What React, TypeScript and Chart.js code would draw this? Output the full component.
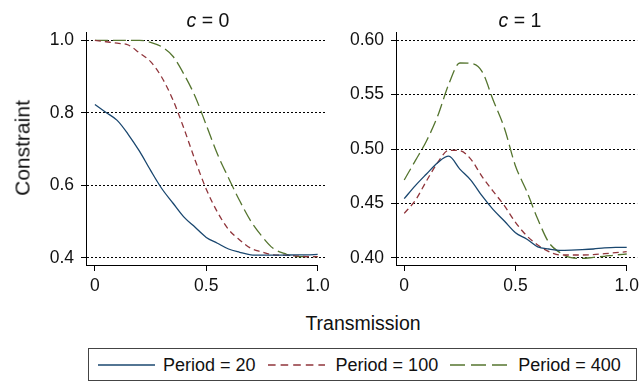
import React, { useEffect, useRef } from "react";
import { Chart, registerables } from "chart.js";

Chart.register(...registerables);

// ---------- data ----------
const transmission = [0, 0.05, 0.1, 0.15, 0.2, 0.25, 0.3, 0.35, 0.4, 0.45, 0.5, 0.55, 0.6, 0.65, 0.7, 0.75, 0.8, 0.85, 0.9, 0.95, 1.0];

const c0Period20 = [0.823, 0.801, 0.779, 0.740, 0.694, 0.641, 0.591, 0.551, 0.512, 0.484, 0.456, 0.440, 0.424, 0.415, 0.408, 0.407, 0.407, 0.407, 0.408, 0.408, 0.409];
const c0Period100 = [1.0, 0.996, 0.992, 0.987, 0.965, 0.941, 0.898, 0.836, 0.756, 0.669, 0.589, 0.526, 0.478, 0.449, 0.426, 0.416, 0.408, 0.407, 0.405, 0.403, 0.403];
const c0Period400 = [1.0, 1.0, 1.0, 1.0, 1.0, 0.9945, 0.982, 0.956, 0.906, 0.845, 0.766, 0.686, 0.620, 0.557, 0.501, 0.459, 0.426, 0.412, 0.403, 0.403, 0.403];

const c1Period20 = [0.4543, 0.4663, 0.477, 0.4874, 0.4934, 0.4815, 0.4712, 0.4568, 0.4442, 0.4338, 0.423, 0.4172, 0.410, 0.408, 0.4068, 0.407, 0.4074, 0.408, 0.409, 0.4095, 0.4095];
const c1Period100 = [0.4408, 0.4528, 0.4706, 0.4874, 0.4988, 0.4985, 0.4905, 0.4746, 0.461, 0.4479, 0.4325, 0.4203, 0.4117, 0.4056, 0.4025, 0.4025, 0.4025, 0.4028, 0.4037, 0.4046, 0.4055];
const c1Period400 = [0.4715, 0.4893, 0.5074, 0.5301, 0.5595, 0.5791, 0.5787, 0.5712, 0.5448, 0.5193, 0.4844, 0.4614, 0.4356, 0.414, 0.4047, 0.400, 0.3994, 0.4003, 0.4013, 0.4025, 0.4034];

const seriesLabels = ["Period = 20", "Period = 100", "Period = 400"];
const panelTitles = ["0", "1"];
const xTicks = [0, 0.5, 1.0];
const xTickLabels = ["0", "0.5", "1.0"];
const leftYTicks = [0.4, 0.6, 0.8, 1.0];
const rightYTicks = [0.4, 0.45, 0.5, 0.55, 0.6];
const xTitle = "Transmission";
const yTitle = "Constraint";

// ---------- styles ----------
const COLORS = ["#1a476f", "#90353b", "#55752f"];
const DASHES: number[][] = [[], [6, 4], [13, 5]];
const LEGEND_DASH = ["", "7.6 5", "15 6"];
const FONT = "'Liberation Sans', Arial, Helvetica, sans-serif";
const TEXT = "#111";

const xAxisLinePlugin = {
  id: "xAxisLine",
  afterDraw(chart: any) {
    const { ctx, chartArea, scales } = chart;
    const y = Math.round(chartArea.bottom) + 0.5;
    ctx.save();
    ctx.strokeStyle = "#000";
    ctx.lineWidth = 1;
    ctx.beginPath();
    ctx.moveTo(chartArea.left, y);
    ctx.lineTo(scales.x.getPixelForValue(1), y);
    ctx.stroke();
    ctx.restore();
  },
};

function makeConfig(
  series: number[][],
  yMin: number,
  yMax: number,
  yTicks: number[],
  decimals: number,
  yWidth: number,
  padRight: number,
  xMin: number,
  xMax: number
): any {
  return {
    type: "line",
    data: {
      datasets: series.map((s, i) => ({
        label: seriesLabels[i],
        data: transmission.map((x, j) => ({ x, y: s[j] })),
        borderColor: COLORS[i],
        borderWidth: 1.3,
        borderDash: DASHES[i],
        pointRadius: 0,
        fill: false,
        cubicInterpolationMode: "monotone",
      })),
    },
    options: {
      animation: false,
      responsive: false,
      maintainAspectRatio: false,
      devicePixelRatio: 1,
      layout: { padding: { left: 0, right: padRight, top: 32, bottom: 0 } },
      plugins: {
        legend: { display: false },
        title: { display: false },
        tooltip: { enabled: false },
      },
      scales: {
        x: {
          type: "linear",
          min: xMin,
          max: xMax,
          afterBuildTicks: (s: any) => {
            s.ticks = xTicks.map((v) => ({ value: v }));
          },
          afterFit: (s: any) => {
            s.height = 40;
          },
          border: { display: false },
          grid: {
            drawOnChartArea: false,
            drawTicks: true,
            tickLength: 6,
            tickColor: "#000",
            tickWidth: 1,
            tickBorderDash: [],
          },
          ticks: {
            autoSkip: false,
            maxRotation: 0,
            padding: 5,
            color: TEXT,
            font: { family: FONT, size: 17.5 },
            callback: (v: any) => {
              const i = xTicks.findIndex((t) => Math.abs(t - Number(v)) < 1e-9);
              return i >= 0 ? xTickLabels[i] : "";
            },
          },
        },
        y: {
          type: "linear",
          min: yMin,
          max: yMax,
          afterBuildTicks: (s: any) => {
            s.ticks = yTicks.map((v) => ({ value: v }));
          },
          afterFit: (s: any) => {
            s.width = yWidth;
          },
          border: { display: true, color: "#000", width: 1, dash: [2, 2] },
          grid: {
            color: "#000",
            lineWidth: 1,
            drawTicks: true,
            tickLength: 5,
            tickColor: "#000",
            tickWidth: 1,
            tickBorderDash: [],
          },
          ticks: {
            autoSkip: false,
            padding: 7,
            color: TEXT,
            font: { family: FONT, size: 17.5 },
            callback: (v: any) => Number(v).toFixed(decimals),
          },
        },
      },
    },
    plugins: [xAxisLinePlugin],
  };
}

function Panel(props: { left: number; width: number; height: number; config: any }) {
  const ref = useRef<HTMLCanvasElement | null>(null);
  useEffect(() => {
    if (!ref.current) return;
    const chart = new Chart(ref.current, props.config);
    return () => chart.destroy();
  }, []);
  return (
    <div style={{ position: "absolute", left: props.left, top: 0, width: props.width, height: props.height }}>
      <canvas
        ref={ref}
        width={props.width}
        height={props.height}
        style={{ width: props.width, height: props.height, display: "block" }}
      />
    </div>
  );
}

function LegendSample(props: { color: string; dash: string }) {
  return (
    <svg width={57} height={6} style={{ display: "block" }}>
      <line x1={0} y1={3} x2={57} y2={3} stroke={props.color} strokeWidth={1.3} strokeDasharray={props.dash || undefined} />
    </svg>
  );
}

export default function App() {
  const leftConfig = makeConfig([c0Period20, c0Period100, c0Period400], 0.3799, 1.0229, leftYTicks, 1, 86, 5, -0.04, 1.04);
  const rightConfig = makeConfig([c1Period20, c1Period100, c1Period400], 0.39328, 0.60764, rightYTicks, 2, 61, 3, -0.037, 1.047);

  const titleStyle = (cx: number): React.CSSProperties => ({
    position: "absolute",
    left: cx - 60,
    width: 120,
    top: 10.5,
    fontSize: 19.5,
    lineHeight: "19.5px",
    textAlign: "center",
    whiteSpace: "nowrap",
    color: TEXT,
  });

  return (
    <div
      style={{
        position: "absolute",
        left: 0,
        top: 0,
        width: 644,
        height: 383,
        background: "#fff",
        fontFamily: FONT,
        color: TEXT,
        overflow: "hidden",
      }}
    >
      <Panel left={0} width={335} height={305} config={leftConfig} />
      <Panel left={335} width={309} height={305} config={rightConfig} />

      <div style={titleStyle(208)}>
        <i>c</i> = {panelTitles[0]}
      </div>
      <div style={titleStyle(520)}>
        <i>c</i> = {panelTitles[1]}
      </div>

      <div
        style={{
          position: "absolute",
          left: 22,
          top: 148,
          transform: "translate(-50%, -50%) rotate(-90deg)",
          fontSize: 21,
          lineHeight: "21px",
          whiteSpace: "nowrap",
        }}
      >
        {yTitle}
      </div>

      <div
        style={{
          position: "absolute",
          left: 263,
          width: 200,
          top: 313.5,
          fontSize: 19.5,
          lineHeight: "19.5px",
          textAlign: "center",
        }}
      >
        {xTitle}
      </div>

      <div
        style={{
          position: "absolute",
          left: 88,
          top: 348,
          width: 549,
          height: 33,
          boxSizing: "border-box",
          border: "1px solid #444",
          display: "flex",
          alignItems: "center",
          paddingLeft: 9,
          fontSize: 18,
          lineHeight: "18px",
          whiteSpace: "nowrap",
        }}
      >
        {seriesLabels.map((lab, i) => (
          <React.Fragment key={lab}>
            <div style={{ marginLeft: i === 0 ? 0 : 12 }}>
              <LegendSample color={COLORS[i]} dash={LEGEND_DASH[i]} />
            </div>
            <span style={{ marginLeft: i === 0 ? 8 : 11 }}>{lab}</span>
          </React.Fragment>
        ))}
      </div>
    </div>
  );
}
